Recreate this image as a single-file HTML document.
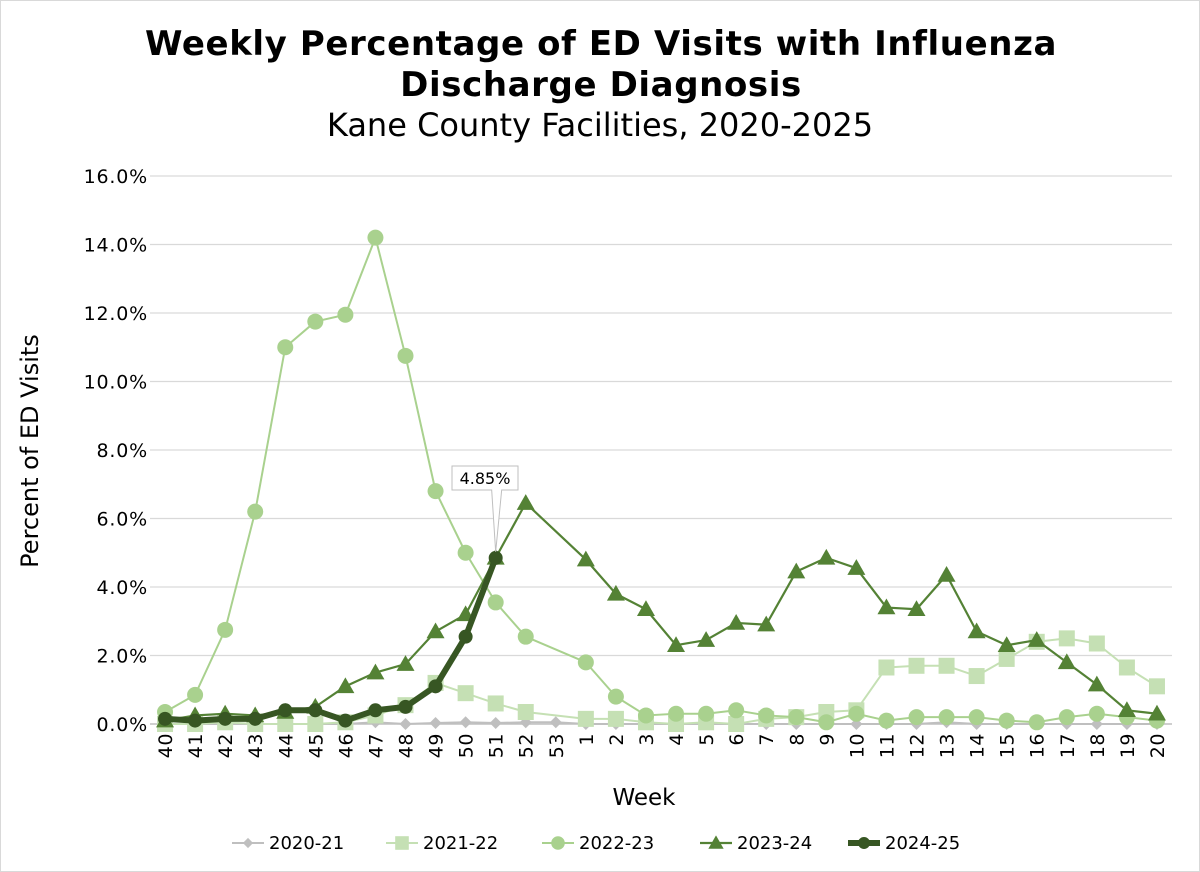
<!DOCTYPE html>
<html><head><meta charset="utf-8"><style>
body{margin:0;background:#fff;}
svg{display:block;font-family:"DejaVu Sans","Liberation Sans",sans-serif;}
</style></head><body>
<svg id="chart" width="1200" height="872" viewBox="0 0 1200 872">
<rect x="0.5" y="0.5" width="1199" height="871" fill="#fff" stroke="#d9d9d9"/>
<text x="601" y="55" text-anchor="middle" font-size="34" font-weight="bold" letter-spacing="0.6">Weekly Percentage of ED Visits with Influenza</text>
<text x="601" y="96" text-anchor="middle" font-size="34" font-weight="bold" letter-spacing="0.6">Discharge Diagnosis</text>
<text x="600" y="136" text-anchor="middle" font-size="32">Kane County Facilities, 2020-2025</text>
<text transform="translate(38,451) rotate(-90)" text-anchor="middle" font-size="24">Percent of ED Visits</text>
<text x="644" y="805" text-anchor="middle" font-size="23">Week</text>
<g id="grid"></g><g id="xt"></g><g id="series"></g><g id="callout"></g><g id="legend"></g>
</svg>
<script>
const weeks=[40,41,42,43,44,45,46,47,48,49,50,51,52,53,1,2,3,4,5,6,7,8,9,10,11,12,13,14,15,16,17,18,19,20];
const yTicks=[0,2,4,6,8,10,12,14,16];
const s2021=[0,0,0,0,0,0,0,0.05,0,0.03,0.05,0.03,0.05,0.05,0,0,0,0,0,0,0,0,0,0,0,0,0.05,0,0,0,0,0,0,0];
const s2122=[0,0,0.05,0,0,0,0.05,0.25,0.55,1.2,0.9,0.6,0.35,null,0.15,0.15,0.05,0,0.05,0,0.15,0.2,0.35,0.4,1.65,1.7,1.7,1.4,1.9,2.4,2.5,2.35,1.65,1.1];
const s2223=[0.35,0.85,2.75,6.2,11.0,11.75,11.95,14.2,10.75,6.8,5.0,3.55,2.55,null,1.8,0.8,0.25,0.3,0.3,0.4,0.25,0.2,0.05,0.3,0.1,0.2,0.2,0.2,0.1,0.05,0.2,0.3,0.2,0.1];
const s2324=[0.1,0.25,0.3,0.25,0.35,0.5,1.1,1.5,1.75,2.7,3.2,4.85,6.45,null,4.8,3.8,3.35,2.3,2.45,2.95,2.9,4.45,4.85,4.55,3.4,3.35,4.35,2.7,2.3,2.45,1.8,1.15,0.4,0.3];
const s2425=[0.15,0.1,0.15,0.15,0.4,0.4,0.1,0.4,0.5,1.1,2.55,4.85];
const names=["2020-21","2021-22","2022-23","2023-24","2024-25"];
const NS="http://www.w3.org/2000/svg";
const L=150,R=1172,T=176,B=724,YMAX=16;
const step=(R-L)/weeks.length;
const X=i=>L+step*(i+0.5);
const Y=v=>B-(v/YMAX)*(B-T);
function mk(t,a,p){const e=document.createElementNS(NS,t);for(const k in a)e.setAttribute(k,a[k]);p.appendChild(e);return e;}
const grid=document.getElementById('grid');
yTicks.forEach(v=>{
 const l=mk('line',{x1:L,x2:R,y1:Y(v),y2:Y(v),stroke:v===0?'#bfbfbf':'#d9d9d9','stroke-width':v===0?1.5:1.2},grid);
 
 
 const t=mk('text',{x:L-2,y:Y(v)+7,'text-anchor':'end','font-size':19,'letter-spacing':0.8},grid);
 t.textContent=v.toFixed(1)+'%';
 
 
});
const xt=document.getElementById('xt');
weeks.forEach((w,i)=>{
 const t=mk('text',{transform:`translate(${X(i)+7},${B+9}) rotate(-90)`,'text-anchor':'end','font-size':19,'letter-spacing':0.5},xt);
 t.textContent=w;
 
 
});
const styles=[
 {c:'#bfbfbf',w:2,m:'diamond',s:6},
 {c:'#c5e0b4',w:2,m:'square',s:8},
 {c:'#a9d18e',w:2,m:'circle',s:8},
 {c:'#548235',w:2.2,m:'triangle',s:9},
 {c:'#375623',w:6,m:'circle',s:7}];
function marker(g,m,x,y,s,c){
 let e;
 if(m==='circle')e=mk('circle',{cx:x,cy:y,r:s,fill:c},g);
 else if(m==='square')e=mk('rect',{x:x-s,y:y-s,width:2*s,height:2*s,fill:c},g);
 else if(m==='diamond')e=mk('polygon',{points:`${x},${y-s} ${x+s},${y} ${x},${y+s} ${x-s},${y}`,fill:c},g);
 else e=mk('polygon',{points:`${x},${y-s} ${x+s},${y+s*0.75} ${x-s},${y+s*0.75}`,fill:c},g);
 return e;
}
const seriesG=document.getElementById('series');
[s2021,s2122,s2223,s2324,s2425].forEach((arr,k)=>{
 const st=styles[k];
 const g=mk('g',{},seriesG);
 
 
 const pts=[];arr.forEach((v,i)=>{if(v!=null)pts.push([X(i),Y(v)]);});
 const p=mk('polyline',{points:pts.map(q=>q.join(',')).join(' '),fill:'none',stroke:st.c,'stroke-width':st.w,'stroke-linejoin':'round'},g);
 
 
 pts.forEach(q=>{
  const e=marker(g,st.m,q[0],q[1],st.s,st.c);
  
  
 });
});
const co=document.getElementById('callout');
const li=s2425.length-1;const px=X(li),py=Y(s2425[li]);
const box=mk('path',{d:`M452,466 H518 V490 H${px+6} L${px},${py-6} L${px-4},490 H452 Z`,fill:'#fff',stroke:'#bfbfbf','stroke-width':1},co);


const ct=mk('text',{x:485,y:484,'text-anchor':'middle','font-size':16},co);
ct.textContent=s2425[li].toFixed(2)+'%';


const lg=document.getElementById('legend');
const lx=[232,386,542,700,848];
names.forEach((n,k)=>{
 const st=styles[k];
 const g=mk('g',{},lg);
 
 
 mk('line',{x1:lx[k],x2:lx[k]+32,y1:843,y2:843,stroke:st.c,'stroke-width':st.w},g);
 marker(g,st.m,lx[k]+16,843,st.s*0.85,st.c);
 const t=mk('text',{x:lx[k]+37,y:849,'font-size':18},g);
 t.textContent=n;
});
</script>
</body></html>
